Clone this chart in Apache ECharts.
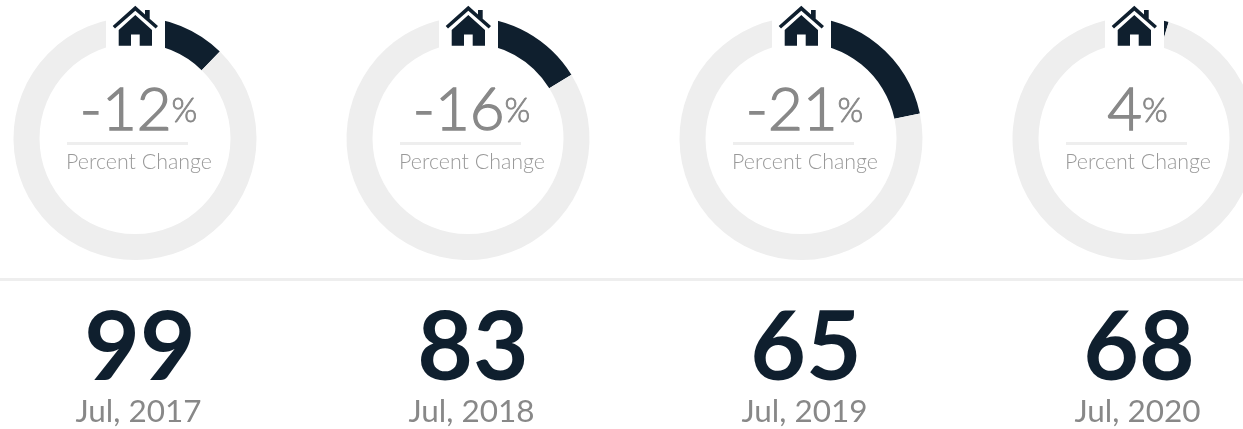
<!DOCTYPE html>
<html><head><meta charset="utf-8">
<style>html,body{margin:0;padding:0;background:#fff;overflow:hidden}#c{width:1243px;height:429px}</style>
<script src="https://cdn.jsdelivr.net/npm/echarts@6/dist/echarts.min.js"></script>
</head><body><div id="c"></div>
<script>
const periods = ['Jul, 2017','Jul, 2018','Jul, 2019','Jul, 2020'];
const counts = [99,83,65,68];
const changeLabels = ['-12','-16','-21','4'];
const changeShares = [12.3,16.2,21.7,4.6];
const caption = 'Percent Change';
const roofShape = [[112.7,26],[135.3,5.7],[145,14.5],[145,10],[149.7,10],[149.7,18.7],[158,26],[155.7,28.5],[135.3,10.8],[115,28.5]];
const bodyShape = [[118.7,30],[135.3,15],[152,30],[152,45.7],[139.7,45.7],[139.7,34.5],[131,34.5],[131,45.7],[118.7,45.7]];
const centers = [135,468,801,1134];
const DARK='#0f1f2e', GREY='#888888', LIGHT='#eeeeee';
const series = changeShares.map((v,i)=>({
  type:'pie', center:[centers[i],138.5], radius:[95.5,121.5], startAngle:90, clockwise:true,
  silent:true, animation:false, label:{show:false}, labelLine:{show:false},
  data:[{value:v,itemStyle:{color:DARK}},{value:100-v,itemStyle:{color:LIGHT}}]
}));
const graphic=[{type:'rect',z:50,silent:true,shape:{x:0,y:278,width:1243,height:3},style:{fill:LIGHT}}];
centers.forEach((c,i)=>{
  graphic.push({type:'rect',z:50,silent:true,shape:{x:c-29,y:0,width:59,height:50},style:{fill:'#fff'}});
  graphic.push({type:'polygon',z:51,silent:true,x:c-135,y:0,shape:{points:roofShape},style:{fill:DARK}});
  graphic.push({type:'polygon',z:51,silent:true,x:c-135,y:0,shape:{points:bodyShape},style:{fill:DARK}});
  graphic.push({type:'rect',z:50,silent:true,shape:{x:c-68,y:142,width:121,height:3},style:{fill:LIGHT}});
  graphic.push({type:'text',z:52,silent:true,x:c+3.5,y:141,style:{text:`{a|${changeLabels[i]}}{b|%}`,align:'center',verticalAlign:'bottom',
    rich:{a:{fontFamily:'Lato',fontWeight:300,fontSize:60,fill:GREY,stroke:GREY,lineWidth:1.4},b:{fontFamily:'Lato',fontWeight:300,fontSize:33,fill:GREY,stroke:GREY,lineWidth:0.8}}}});
  graphic.push({type:'text',z:52,silent:true,x:c+4,y:162,style:{text:caption,align:'center',verticalAlign:'middle',fontFamily:'Lato',fontWeight:300,fontSize:21.4,fill:'#999'}});
  graphic.push({type:'text',z:52,silent:true,x:c+5,y:349,style:{text:String(counts[i]),align:'center',verticalAlign:'middle',fontFamily:'Lato',fontWeight:700,fontSize:96,fill:DARK}});
  graphic.push({type:'text',z:52,silent:true,x:c+3.5,y:412,style:{text:periods[i],align:'center',verticalAlign:'middle',fontFamily:'Lato',fontWeight:400,fontSize:31.5,fill:GREY}});
});
const chart=echarts.init(document.getElementById('c'),null,{renderer:'canvas'});
chart.setOption({animation:false,backgroundColor:'#fff',series,graphic});
</script></body></html>
